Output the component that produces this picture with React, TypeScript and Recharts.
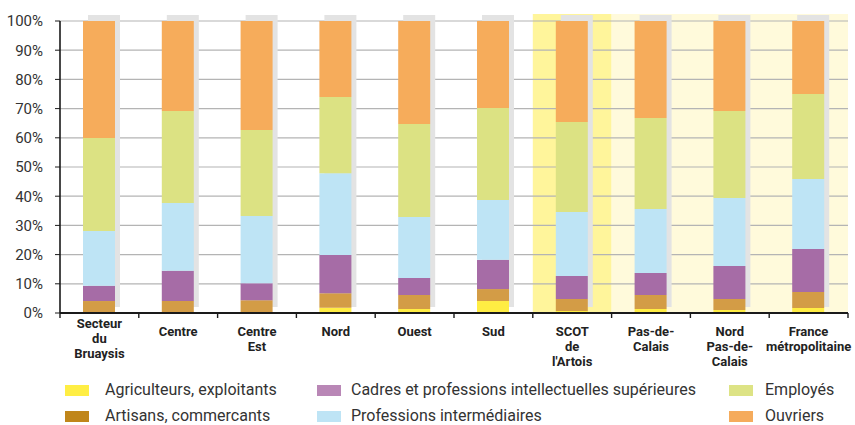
import React from 'react';
import { BarChart, Bar, XAxis, YAxis, CartesianGrid, ReferenceArea } from 'recharts';

const categories = [
  'Secteur du Bruaysis',
  'Centre',
  'Centre Est',
  'Nord',
  'Ouest',
  'Sud',
  "SCOT de l'Artois",
  'Pas-de-Calais',
  'Nord Pas-de-Calais',
  'France métropolitaine',
];
// how each category label wraps under the axis
const categoryLines = [
  ['Secteur', 'du', 'Bruaysis'],
  ['Centre'],
  ['Centre', 'Est'],
  ['Nord'],
  ['Ouest'],
  ['Sud'],
  ['SCOT', 'de', "l'Artois"],
  ['Pas-de-', 'Calais'],
  ['Nord', 'Pas-de-', 'Calais'],
  ['France', 'métropolitaine'],
];

const agriculteurs = [0.1, 0.1, 0.1, 1.8, 1.4, 4.1, 0.7, 1.4, 1.0, 1.7];
const artisans = [4.0, 4.0, 4.3, 5.0, 4.8, 4.1, 4.1, 4.8, 3.8, 5.5];
const cadres = [5.2, 10.4, 5.8, 13.1, 5.8, 10.0, 7.9, 7.5, 11.3, 14.7];
const professions = [18.8, 23.2, 23.0, 28.0, 20.9, 20.5, 21.9, 21.9, 23.3, 24.0];
const employes = [31.8, 31.5, 29.5, 26.1, 31.8, 31.5, 30.8, 31.2, 29.8, 29.1];
const ouvriers = [40.1, 30.8, 37.3, 26.0, 35.3, 29.8, 34.6, 33.2, 30.8, 25.0];

const yTicks = [0, 10, 20, 30, 40, 50, 60, 70, 80, 90, 100];

const series = [
  { key: 'agri', name: 'Agriculteurs, exploitants', values: agriculteurs, color: '#ffed43', legend: '#ffee44' },
  { key: 'art', name: 'Artisans, commercants', values: artisans, color: '#d39c46', legend: '#c0861a' },
  { key: 'cad', name: 'Cadres et professions intellectuelles supérieures', values: cadres, color: '#a66ca6', legend: '#b987b6' },
  { key: 'prof', name: 'Professions intermédiaires', values: professions, color: '#bee4f5', legend: '#bee4f5' },
  { key: 'emp', name: 'Employés', values: employes, color: '#dce283', legend: '#dde385' },
  { key: 'ouv', name: 'Ouvriers', values: ouvriers, color: '#f6ac5b', legend: '#f5ab5c' },
];

const data = categories.map((name, i) => {
  const row: Record<string, string | number> = { name };
  series.forEach(s => { row[s.key] = s.values[i]; });
  return row;
});

// legend grid: [column, row] for each series, in series order
const legendSlots = [[0, 0], [0, 1], [1, 0], [1, 1], [2, 0], [2, 1]];
const legendCols = [{ sw: 65, tx: 105 }, { sw: 317, tx: 351 }, { sw: 729, tx: 765 }];
const legendRows = [385, 411];

const AXIS = '#1a1a1a';

const CategoryTick = (props: any) => {
  const { x, y, payload, index } = props;
  const half = payload && payload.offset ? payload.offset : 39.4;
  const lines = categoryLines[index] || [String(payload.value)];
  const shift = index === 0 ? -8 : 0;
  return (
    <g>
      <line x1={x - half} x2={x - half} y1={y} y2={y + 5} stroke={AXIS} strokeWidth={1.4} />
      {index === categories.length - 1 && (
        <line x1={x + half} x2={x + half} y1={y} y2={y + 5} stroke={AXIS} strokeWidth={1.4} />
      )}
      <text x={x} y={y + 22.5 + shift} textAnchor="middle" fontSize={13} fontWeight={700} fill="#222">
        {lines.map((l, i) => (
          <tspan key={i} x={x} dy={i === 0 ? 0 : 15.4}>{l}</tspan>
        ))}
      </text>
    </g>
  );
};

const Shadow = (props: any) => (
  <rect x={props.x + 5} y={props.y - 6} width={props.width} height={props.height} fill="#e3e3e3" />
);

export default function App() {
  return (
    <div style={{ position: 'absolute', left: 0, top: 0, width: 855, height: 425, fontFamily: 'Roboto, sans-serif', background: '#fff' }}>
      <BarChart width={855} height={425} data={data} margin={{ top: 21, right: 7, bottom: 52, left: 0 }}>
        <ReferenceArea
          x1="SCOT de l'Artois"
          x2="SCOT de l'Artois"
          y1={0}
          y2={102.4}
          fill="#fff59b"
          fillOpacity={1}
          stroke="none"
          ifOverflow="visible"
          zIndex={-200}
        />
        <ReferenceArea
          x1="Pas-de-Calais"
          x2="France métropolitaine"
          y1={0}
          y2={102.4}
          fill="#fffadb"
          fillOpacity={1}
          stroke="none"
          ifOverflow="visible"
          zIndex={-200}
        />
        <CartesianGrid vertical={false} stroke="#b4b4b4" strokeWidth={1.2} />
        <XAxis
          dataKey="name"
          interval={0}
          height={60}
          tickSize={0}
          tickMargin={0}
          tickLine={false}
          axisLine={{ stroke: AXIS, strokeWidth: 1.8 }}
          tick={<CategoryTick />}
        />
        <YAxis
          type="number"
          domain={[0, 100]}
          ticks={yTicks}
          width={60}
          tickSize={5}
          tickMargin={12}
          tickFormatter={(v: number) => `${v}%`}
          tick={{ fontSize: 15, fill: '#333' }}
          tickLine={{ stroke: AXIS }}
          axisLine={{ stroke: AXIS, strokeWidth: 1.6 }}
        />
        {series.map((s, i) => (
          <Bar
            key={s.key}
            dataKey={s.key}
            name={s.name}
            stackId="a"
            barSize={32}
            fill={s.color}
            isAnimationActive={false}
            background={i === 0 ? Shadow : undefined}
          />
        ))}
      </BarChart>
      {series.map((s, i) => {
        const [c, r] = legendSlots[i];
        const top = legendRows[r];
        return (
          <React.Fragment key={s.key}>
            <div style={{ position: 'absolute', left: legendCols[c].sw, top, width: 24, height: 11, background: s.legend }} />
            <div style={{ position: 'absolute', left: legendCols[c].tx, top: top - 5, fontSize: 16, lineHeight: '20px', color: '#333', whiteSpace: 'nowrap' }}>
              {s.name}
            </div>
          </React.Fragment>
        );
      })}
    </div>
  );
}
